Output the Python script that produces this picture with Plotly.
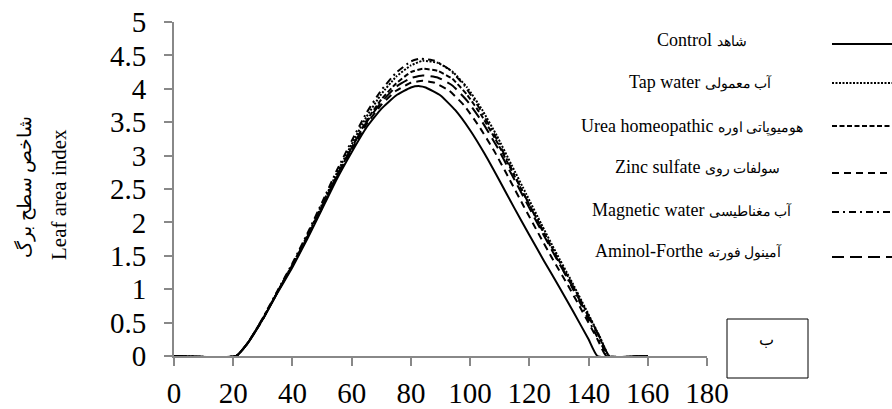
import plotly.graph_objects as go

# ---- data ----
control_x = [0, 21, 25, 30, 35, 40, 45, 50, 55, 60, 65, 70, 75, 80, 83, 85, 90, 95, 100,
             105, 110, 115, 120, 125, 130, 135, 140, 143, 160]
control_y = [0, 0, 0.20, 0.55, 0.95, 1.33, 1.75, 2.20, 2.65, 3.05, 3.42, 3.70, 3.90, 4.02,
             4.04, 4.02, 3.90, 3.68, 3.38, 3.02, 2.62, 2.21, 1.81, 1.42, 1.04, 0.65, 0.25, 0, 0]

tap_x = [0, 21, 25, 30, 35, 40, 45, 50, 55, 60, 65, 70, 75, 80, 84, 89, 94, 99, 104,
         109, 114, 119, 124, 129, 134, 139, 144, 147, 160]
tap_y = [0, 0, 0.20, 0.56, 0.97, 1.37, 1.80, 2.27, 2.74, 3.17, 3.58, 3.92, 4.18, 4.35,
         4.42, 4.39, 4.26, 4.02, 3.69, 3.30, 2.86, 2.42, 1.98, 1.55, 1.14, 0.71, 0.27, 0, 0]

urea_x = [0, 21, 25, 30, 35, 40, 45, 50, 55, 60, 65, 70, 75, 80, 84, 89, 94, 99, 104,
          109, 114, 119, 124, 129, 134, 139, 144, 146, 160]
urea_y = [0, 0, 0.20, 0.56, 0.96, 1.36, 1.78, 2.24, 2.70, 3.12, 3.52, 3.84, 4.08, 4.25,
          4.30, 4.27, 4.15, 3.91, 3.59, 3.21, 2.78, 2.35, 1.93, 1.51, 1.11, 0.69, 0.26, 0, 0]

zinc_x = [0, 21, 25, 30, 35, 40, 45, 50, 55, 60, 65, 70, 75, 80, 84, 88, 93, 98, 103,
          108, 113, 118, 123, 128, 133, 138, 143, 146, 160]
zinc_y = [0, 0, 0.20, 0.55, 0.96, 1.35, 1.77, 2.22, 2.68, 3.09, 3.47, 3.76, 3.97, 4.09,
          4.12, 4.09, 3.97, 3.75, 3.44, 3.08, 2.67, 2.25, 1.84, 1.44, 1.06, 0.66, 0.25, 0, 0]

magnetic_x = [0, 21, 25, 30, 35, 40, 45, 50, 55, 60, 65, 70, 75, 80, 83, 88, 93, 98, 103,
              108, 113, 118, 123, 128, 133, 138, 143, 147, 160]
magnetic_y = [0, 0, 0.20, 0.57, 0.98, 1.39, 1.83, 2.30, 2.78, 3.22, 3.64, 3.98, 4.24, 4.41,
              4.45, 4.42, 4.29, 4.05, 3.72, 3.33, 2.89, 2.44, 2.00, 1.57, 1.15, 0.72, 0.28, 0, 0]

aminol_x = [0, 21, 25, 30, 35, 40, 45, 50, 55, 60, 65, 70, 75, 80, 84, 89, 94, 99, 104,
            109, 114, 119, 124, 129, 134, 139, 144, 147, 160]
aminol_y = [0, 0, 0.20, 0.55, 0.96, 1.36, 1.78, 2.24, 2.70, 3.12, 3.50, 3.80, 4.03, 4.16,
            4.20, 4.17, 4.05, 3.82, 3.51, 3.14, 2.72, 2.30, 1.88, 1.47, 1.08, 0.67, 0.26, 0, 0]

latin_names = ["Control", "Tap water", "Urea homeopathic", "Zinc sulfate",
               "Magnetic water", "Aminol-Forthe"]
persian_names = ["شاهد", "آب معمولی", "هومیوپاتی اوره", "سولفات روی",
                 "آب مغناطیسی", "آمینول فورته"]
x_ticks = [0, 20, 40, 60, 80, 100, 120, 140, 160, 180]
y_ticks = [0, 0.5, 1, 1.5, 2, 2.5, 3, 3.5, 4, 4.5, 5]
y_title_fa = "شاخص سطح برگ"
y_title_en = "Leaf area index"
panel_label = "ب"

# ---- styles ----
dashes = ["solid", "2px,1.5px", "5px,2.5px", "7px,5px", "7px,4px,2px,4px", "12px,6px"]
xs = [control_x, tap_x, urea_x, zinc_x, magnetic_x, aminol_x]
ys = [control_y, tap_y, urea_y, zinc_y, magnetic_y, aminol_y]

W, H = 892, 409
L, R, T, B = 174, 707, 22, 356

fig = go.Figure()
for name, x, y, d in zip(latin_names, xs, ys, dashes):
    fig.add_trace(go.Scatter(x=x, y=y, mode="lines", name=name, showlegend=False,
                             line=dict(color="black", width=2, dash=d,
                                       shape="spline", smoothing=0.4)))

def px(xp):
    return (xp - L) / (R - L)

def py(yp):
    return (B - yp) / (B - T)

serif = "Liberation Serif, Times New Roman, serif"
text_y = [40, 82, 126, 167, 210, 251]
line_y = [44, 83, 126, 173, 212, 257]
text_x = [702, 700, 692, 697, 692, 688]
shapes = []
annotations = []
for en, fa, d, ty, ly, tx in zip(latin_names, persian_names, dashes, text_y, line_y, text_x):
    annotations.append(dict(x=px(tx), y=py(ty), xref="paper", yref="paper",
                            text=en + " <span style='font-size:14px'>" + fa + "</span>",
                            showarrow=False, xanchor="center", yanchor="middle",
                            font=dict(family=serif, size=18, color="black")))
    shapes.append(dict(type="line", xref="paper", yref="paper", x0=px(832), x1=px(892),
                       y0=py(ly), y1=py(ly), line=dict(color="black", width=2, dash=d)))

shapes.append(dict(type="rect", xref="paper", yref="paper", x0=px(727), x1=px(808),
                   y0=py(319), y1=py(378), line=dict(color="black", width=1)))
annotations.append(dict(x=px(776), y=py(350), xref="paper", yref="paper", text=panel_label,
                        showarrow=False, font=dict(family=serif, size=16, color="black")))
annotations.append(dict(x=px(25), y=py(187), xref="paper", yref="paper", text=y_title_fa,
                        textangle=-90, showarrow=False, xanchor="center", yanchor="middle",
                        font=dict(family=serif, size=19, color="black")))
annotations.append(dict(x=px(59), y=py(195), xref="paper", yref="paper", text=y_title_en,
                        textangle=-90, showarrow=False, xanchor="center", yanchor="middle",
                        font=dict(family=serif, size=21, color="black")))

fig.update_layout(
    width=W, height=H,
    margin=dict(l=L, r=W - R, t=T, b=H - B),
    plot_bgcolor="white", paper_bgcolor="white",
    shapes=shapes, annotations=annotations,
    font=dict(family=serif, color="black"),
)
fig.update_xaxes(range=[0, 180], tickvals=x_ticks, ticks="outside", ticklen=8,
                 tickcolor="#888888", tickwidth=2, showline=True, linecolor="#888888",
                 linewidth=2, showgrid=False, zeroline=False, automargin=False,
                 ticklabelstandoff=2,
                 tickfont=dict(family=serif, size=29, color="black"))
fig.update_yaxes(range=[0, 5], tickvals=y_ticks, ticks="outside", ticklen=8,
                 tickcolor="#888888", tickwidth=2, showline=True, linecolor="#888888",
                 linewidth=2, showgrid=False, zeroline=False, automargin=False,
                 ticklabelstandoff=12,
                 tickfont=dict(family=serif, size=29, color="black"))

fig.write_html("out.html")
